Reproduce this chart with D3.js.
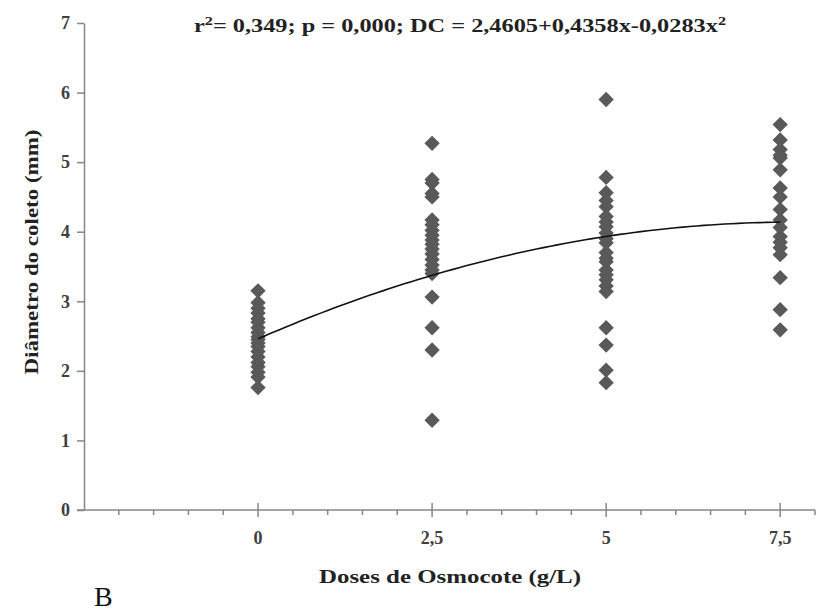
<!DOCTYPE html>
<html>
<head>
<meta charset="utf-8">
<script src="https://cdn.jsdelivr.net/npm/d3@7"></script>
<style>
  body { margin: 0; background: #fff; }
  svg text { font-family: "Liberation Serif", "Times New Roman", Tinos, serif; }
</style>
</head>
<body>
<div id="chart"></div>
<script>
const doses = [0, 2.5, 5, 7.5];
const dose0 = [3.15, 2.98, 2.9, 2.83, 2.75, 2.7, 2.62, 2.55, 2.49, 2.45, 2.4, 2.35, 2.28, 2.2, 2.12, 2.06, 1.98, 1.91, 1.76];
const dose25 = [5.27, 4.75, 4.7, 4.55, 4.5, 4.17, 4.1, 4.02, 3.95, 3.88, 3.82, 3.75, 3.68, 3.6, 3.52, 3.45, 3.4, 3.06, 2.62, 2.3, 1.29];
const dose5 = [5.9, 4.78, 4.56, 4.45, 4.36, 4.22, 4.14, 4.07, 3.98, 3.9, 3.84, 3.7, 3.62, 3.57, 3.45, 3.38, 3.31, 3.22, 3.14, 2.62, 2.37, 2.01, 1.83];
const dose75 = [5.54, 5.32, 5.18, 5.1, 5.06, 4.89, 4.63, 4.5, 4.32, 4.17, 4.06, 3.93, 3.85, 3.77, 3.67, 3.34, 2.88, 2.59];
// fitted curve coefficients from the chart: DC = a + b x + c x^2
const coef = [2.4605, 0.4358, -0.0283];
const xTickLabels = ["0", "2,5", "5", "7,5"];
const yTicks = [0, 1, 2, 3, 4, 5, 6, 7];

const width = 830, height = 614;
const axisColor = "#868686";
const markColor = "#595959";
const serif = "Liberation Serif, Times New Roman, serif";

const svg = d3.select("#chart").append("svg")
    .attr("width", width)
    .attr("height", height);

const x = d3.scaleLinear().domain([-2.5, 8]).range([84, 815]);
const y = d3.scaleLinear().domain([0, 7]).range([510, 23]);

// y axis
const yAxis = d3.axisLeft(y).tickValues(yTicks).tickFormat(d3.format("d"))
    .tickSize(7).tickSizeOuter(0).tickPadding(7);
const yAxisGroup = svg.append("g")
    .attr("transform", `translate(${x(-2.5)},0)`)
    .call(yAxis)
    .attr("font-family", serif);
yAxisGroup.select(".domain").attr("stroke", axisColor).attr("stroke-width", 1.5);
yAxisGroup.selectAll(".tick line").attr("stroke", axisColor).attr("stroke-width", 1.5);
yAxisGroup.selectAll(".tick text")
    .attr("font-size", 18)
    .attr("font-weight", "bold")
    .attr("fill", "#404040");

// x axis: minor ticks every 0.5, major ticks crossing the axis at labelled doses
const xAxisGroup = svg.append("g")
    .attr("transform", `translate(0,${y(0)})`);
xAxisGroup.append("line")
    .attr("x1", x(-2.5) - 7).attr("x2", x(8))
    .attr("stroke", axisColor).attr("stroke-width", 1.5);
const minor = d3.range(-4, 17).map(i => i * 0.5).filter(v => !doses.includes(v));
xAxisGroup.selectAll("line.minor")
    .data(minor)
    .join("line")
    .attr("class", "minor")
    .attr("x1", d => x(d)).attr("x2", d => x(d))
    .attr("y1", 0).attr("y2", 5)
    .attr("stroke", axisColor).attr("stroke-width", 1.5);
xAxisGroup.selectAll("line.major")
    .data(doses)
    .join("line")
    .attr("class", "major")
    .attr("x1", d => x(d)).attr("x2", d => x(d))
    .attr("y1", -7).attr("y2", 7)
    .attr("stroke", axisColor).attr("stroke-width", 1.5);
xAxisGroup.selectAll("text")
    .data(doses)
    .join("text")
    .attr("x", d => x(d))
    .attr("y", 34)
    .attr("text-anchor", "middle")
    .attr("font-size", 18)
    .attr("font-weight", "bold")
    .attr("fill", "#404040")
    .text((d, i) => xTickLabels[i]);

// points
const groups = [dose0, dose25, dose5, dose75];
const points = groups.flatMap((vals, i) => vals.map(v => ({dose: doses[i], value: v})));
const diamond = d3.symbol().type(d3.symbolDiamond2).size(150);
svg.append("g")
  .selectAll("path")
  .data(points)
  .join("path")
    .attr("d", diamond)
    .attr("transform", d => `translate(${x(d.dose)},${y(d.value)})`)
    .attr("fill", markColor);

// fitted curve
const curveX = d3.range(0, 7.51, 0.1);
const line = d3.line()
    .x(d => x(d))
    .y(d => y(coef[0] + coef[1] * d + coef[2] * d * d));
svg.append("path")
    .datum(curveX)
    .attr("d", line)
    .attr("fill", "none")
    .attr("stroke", "#111")
    .attr("stroke-width", 1.6);

// equation
const eq = svg.append("text")
    .attr("x", 460)
    .attr("y", 32)
    .attr("text-anchor", "middle")
    .attr("font-size", 18)
    .attr("font-weight", "bold")
    .attr("fill", "#222")
    .attr("textLength", 532)
    .attr("lengthAdjust", "spacingAndGlyphs");
eq.append("tspan").text("r");
eq.append("tspan").attr("dy", -7).attr("font-size", 12).text("2");
eq.append("tspan").attr("dy", 7).text("= 0,349;  p = 0,000;  DC = 2,4605+0,4358x-0,0283x");
eq.append("tspan").attr("dy", -7).attr("font-size", 12).text("2");

// axis titles
svg.append("text")
    .attr("transform", `translate(38,252) rotate(-90)`)
    .attr("text-anchor", "middle")
    .attr("font-size", 18)
    .attr("font-weight", "bold")
    .attr("fill", "#222")
    .attr("textLength", 245)
    .attr("lengthAdjust", "spacingAndGlyphs")
    .text("Diâmetro do coleto (mm)");

svg.append("text")
    .attr("x", 450)
    .attr("y", 583)
    .attr("text-anchor", "middle")
    .attr("font-size", 18)
    .attr("font-weight", "bold")
    .attr("fill", "#222")
    .attr("textLength", 262)
    .attr("lengthAdjust", "spacingAndGlyphs")
    .text("Doses de Osmocote (g/L)");

svg.append("text")
    .attr("x", 94)
    .attr("y", 606)
    .attr("font-size", 28)
    .attr("fill", "#111")
    .text("B");
</script>
</body>
</html>
